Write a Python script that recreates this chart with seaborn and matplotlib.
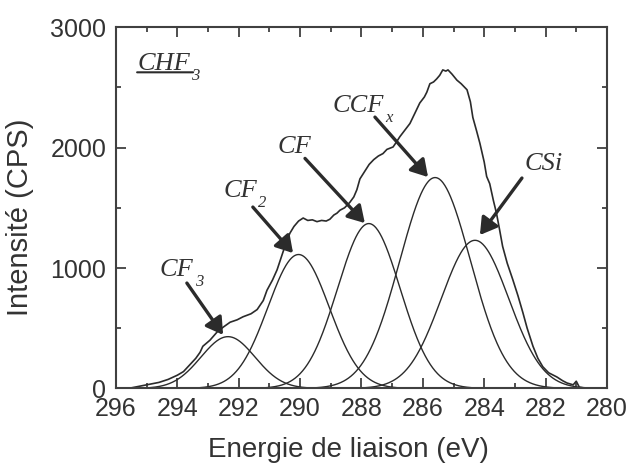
import numpy as np
import pandas as pd
import seaborn as sns
import matplotlib
matplotlib.use("Agg")
import matplotlib.pyplot as plt
from matplotlib.ticker import MultipleLocator

# ---- data ----
# measured envelope (binding energy eV, intensity CPS)
env_x = [295.8, 295.5, 295.2, 294.9, 294.6, 294.3, 294.0, 293.8, 293.6, 293.4,
         293.26, 293.17, 292.94, 292.7, 292.5, 292.28, 292.05, 291.86, 291.6, 291.4,
         291.2, 291.08, 290.9, 290.75, 290.6, 290.43, 290.33, 290.2, 290.05, 289.9,
         289.75, 289.6, 289.45, 289.3, 289.15, 289.03, 288.9, 288.8, 288.7, 288.55,
         288.38, 288.25, 288.15, 288.05, 287.9, 287.75, 287.6, 287.45, 287.3, 287.17,
         286.97, 286.85, 286.75, 286.6, 286.42, 286.25, 286.1, 285.95, 285.87, 285.77,
         285.65, 285.55, 285.45, 285.35, 285.25, 285.18, 285.05, 284.89, 284.75, 284.56,
         284.45, 284.37, 284.25, 284.14, 284.0, 283.92, 283.82, 283.7, 283.6, 283.5,
         283.4, 283.25, 283.07, 282.9, 282.74, 282.6, 282.41, 282.25, 282.09, 281.9,
         281.63, 281.45, 281.3, 281.1, 281.0, 280.9, 280.65]
env_y = [0, 5, 20, 35, 50, 75, 110, 140, 195, 250,
         300, 350, 400, 470, 510, 550, 570, 595, 620, 655,
         730, 815, 900, 985, 1100, 1230, 1290, 1345, 1390, 1415,
         1395, 1400, 1385, 1395, 1390, 1405, 1440, 1455, 1480, 1500,
         1545, 1590, 1650, 1740, 1800, 1860, 1900, 1930, 1950, 1985,
         2005, 2050, 2090, 2140, 2200, 2290, 2370, 2420, 2460, 2530,
         2545, 2570, 2600, 2645, 2635, 2645, 2610, 2560, 2530, 2480,
         2380, 2250, 2140, 2035, 1880, 1760, 1700, 1560, 1455, 1320,
         1180, 1040, 905, 770, 630, 500, 350, 250, 180, 130,
         95, 65, 45, 30, 60, 10, 0]

# fitted components: name, centre (eV), height (CPS), width sigma (eV)
comp_names = ["CF3", "CF2", "CF", "CCFx", "CSi"]
comp_centers = [292.35, 290.05, 287.76, 285.6, 284.3]
comp_heights = [430, 1112, 1369, 1751, 1230]
comp_sigmas = [0.88, 1.0, 1.02, 1.15, 1.1]

# labels (main part, subscript) and arrow geometry in data coordinates
lab_main = ["CF", "CF", "CF", "CCF", "CSi"]
lab_sub = ["3", "2", "", "x", ""]
lab_pos = [(294.57, 934), (292.51, 1589), (290.72, 1954), (288.93, 2295), (282.67, 1813)]
arrow_start = [(293.69, 875), (291.54, 1506), (289.84, 1910), (287.56, 2253), (282.77, 1747)]
arrow_end = [(292.51, 445), (290.23, 1124), (287.89, 1373), (285.83, 1755), (284.14, 1274)]
title_main, title_sub = "CHF", "3"

xticks = [296, 294, 292, 290, 288, 286, 284, 282, 280]
yticks = [0, 1000, 2000, 3000]

# ---- build tables ----
grid = np.linspace(296, 280, 801)
rows = []
for n, c, h, s in zip(comp_names, comp_centers, comp_heights, comp_sigmas):
    rows.append(pd.DataFrame({"E": grid, "I": h * np.exp(-(grid - c) ** 2 / (2 * s ** 2)), "comp": n}))
comp_df = pd.concat(rows, ignore_index=True)
env_df = pd.DataFrame({"E": env_x, "I": env_y})

# ---- style ----
sns.set_style("ticks")
plt.rcParams["font.family"] = ["Liberation Sans", "DejaVu Sans"]
dark = "#2b2b2b"
gray = "#404040"
txtc = "#333333"
serif_it = dict(family="Liberation Serif", style="italic", color=txtc)

fig = plt.figure(figsize=(6.27, 4.68), dpi=100)
ax = fig.add_axes([0.185, 0.170, 0.783, 0.772])

for n in comp_names:
    sns.lineplot(data=comp_df[comp_df["comp"] == n], x="E", y="I", ax=ax,
                 color=dark, lw=1.0, sort=False, estimator=None)
sns.lineplot(data=env_df, x="E", y="I", ax=ax, color=dark, lw=1.2,
             sort=False, estimator=None)

ax.set_xlim(296, 280)
ax.set_ylim(0, 3000)
ax.set_xticks(xticks)
ax.set_yticks(yticks)
ax.xaxis.set_minor_locator(MultipleLocator(1))
ax.yaxis.set_minor_locator(MultipleLocator(500))
ax.tick_params(which="both", direction="in", top=True, right=True, color=gray, width=1.3)
ax.tick_params(which="major", length=7, labelsize=18, labelcolor=txtc)
ax.tick_params(which="minor", length=3.5)
ax.tick_params(axis="y", pad=7)
ax.tick_params(axis="x", pad=6.5)
for sp in ax.spines.values():
    sp.set_color(gray)
    sp.set_linewidth(1.5)
ax.set_xlabel("Energie de liaison (eV)", fontsize=20, color=txtc)
ax.set_ylabel("Intensité (CPS)", fontsize=21, color=txtc)
ax.xaxis.set_label_coords(0.4725, -0.135)
ax.yaxis.set_label_coords(-0.168, 0.474)


def label(x, y, main, sub, transform):
    t = ax.text(x, y, main, fontsize=19, ha="left", va="baseline",
                transform=transform, **serif_it)
    if sub:
        ax.annotate(sub, xy=(1, 0), xycoords=t, xytext=(1, 5),
                    textcoords="offset points", fontsize=12,
                    ha="left", va="top", **serif_it)
    return t


for m, s_, p, s, e in zip(lab_main, lab_sub, lab_pos, arrow_start, arrow_end):
    label(p[0], p[1], m, s_, ax.transData)
    ax.annotate("", xy=e, xytext=s,
                arrowprops=dict(arrowstyle="-|>,head_length=0.5,head_width=0.3",
                                lw=2.4, color=dark, mutation_scale=20,
                                shrinkA=0, shrinkB=0))

label(0.043, 0.881, title_main, title_sub, ax.transAxes)
ax.annotate("", xy=(0.157, 0.875), xytext=(0.043, 0.875), xycoords="axes fraction",
            textcoords="axes fraction",
            arrowprops=dict(arrowstyle="-", lw=1.5, color=dark, shrinkA=0, shrinkB=0))

fig.savefig("out.png", dpi=100)
